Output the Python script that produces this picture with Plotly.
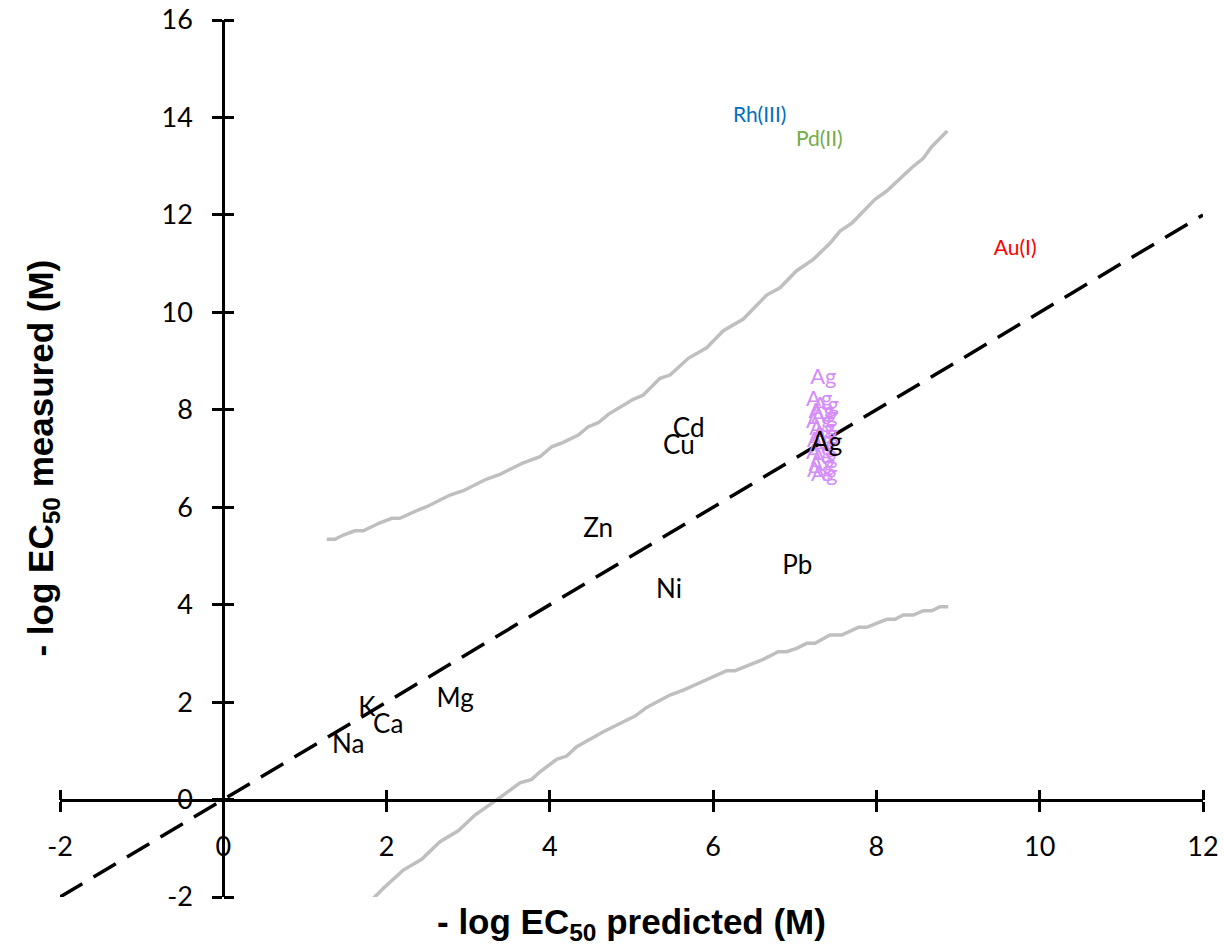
import plotly.graph_objects as go

# ---- data ----
metal_labels = ["Na", "K", "Ca", "Mg", "Zn", "Ni", "Cu", "Cd", "Pb", "Ag"]
metal_pred = [1.53, 1.76, 2.02, 2.84, 4.59, 5.46, 5.58, 5.70, 7.03, 7.39]
metal_meas = [1.09, 1.85, 1.50, 2.03, 5.52, 4.27, 7.22, 7.57, 4.76, 7.28]

ag_pred = [7.35, 7.30, 7.38, 7.33, 7.36, 7.30, 7.34, 7.37, 7.31, 7.35, 7.30, 7.36, 7.33, 7.31, 7.36]
ag_meas = [8.64, 8.19, 8.07, 7.95, 7.85, 7.73, 7.60, 7.47, 7.35, 7.23, 7.10, 6.99, 6.86, 6.73, 6.65]

rh_pred, rh_meas = [6.57], [14.01]
pd_pred, pd_meas = [7.30], [13.52]
au_pred, au_meas = [9.70], [11.29]

upper_x = [1.267, 1.368, 1.470, 1.613, 1.715, 1.919, 2.063, 2.164, 2.369, 2.491, 2.777, 2.940,
           3.226, 3.389, 3.675, 3.879, 4.022, 4.165, 4.348, 4.471, 4.593, 4.716, 5.022, 5.145,
           5.349, 5.472, 5.696, 5.921, 6.125, 6.370, 6.656, 6.819, 7.023, 7.227, 7.431, 7.554,
           7.697, 7.983, 8.126, 8.432, 8.574, 8.677, 8.868]
upper_y = [5.341, 5.341, 5.429, 5.517, 5.517, 5.681, 5.772, 5.772, 5.928, 6.010, 6.250, 6.338,
           6.578, 6.675, 6.913, 7.036, 7.241, 7.332, 7.482, 7.652, 7.734, 7.906, 8.214, 8.303,
           8.645, 8.713, 9.056, 9.273, 9.622, 9.863, 10.355, 10.505, 10.854, 11.088, 11.416, 11.669,
           11.827, 12.319, 12.490, 12.968, 13.161, 13.399, 13.721]

lower_x = [1.818, 1.960, 2.205, 2.430, 2.654, 2.878, 3.083, 3.307, 3.430, 3.634, 3.778, 3.879,
           4.084, 4.206, 4.329, 4.655, 4.859, 5.043, 5.186, 5.471, 5.635, 6.044, 6.166, 6.268,
           6.492, 6.614, 6.798, 6.901, 7.023, 7.146, 7.248, 7.431, 7.575, 7.778, 7.881, 8.126,
           8.228, 8.329, 8.452, 8.574, 8.677, 8.779, 8.880]
lower_y = [-2.063, -1.823, -1.447, -1.227, -0.866, -0.640, -0.318, -0.066, 0.092, 0.345, 0.415, 0.571,
           0.825, 0.893, 1.084, 1.392, 1.564, 1.714, 1.892, 2.145, 2.248, 2.555, 2.644, 2.644,
           2.808, 2.878, 3.034, 3.034, 3.103, 3.206, 3.206, 3.376, 3.376, 3.534, 3.534, 3.699,
           3.699, 3.787, 3.787, 3.875, 3.875, 3.957, 3.957]

identity_x = [-2, 12]
identity_y = [-2, 12]

x_ticks = [-2, 0, 2, 4, 6, 8, 10, 12]
x_ticktext = ["-2", "0", "2", "4", "6", "8", "10", "12"]
y_ticks = [-2, 0, 2, 4, 6, 8, 10, 12, 14, 16]
y_ticktext = ["-2", "0", "2", "4", "6", "8", "10", "12", "14", "16"]
x_range = [-2, 12]
y_range = [-2, 16]

# ---- figure ----
LABEL_FONT = "Lato"
fig = go.Figure()

fig.add_trace(go.Scatter(x=upper_x, y=upper_y, mode="lines",
                         line=dict(color="#BFBFBF", width=3.5), hoverinfo="skip"))
fig.add_trace(go.Scatter(x=lower_x, y=lower_y, mode="lines",
                         line=dict(color="#BFBFBF", width=3.5), hoverinfo="skip"))
fig.add_trace(go.Scatter(x=identity_x, y=identity_y, mode="lines",
                         line=dict(color="black", width=3.5, dash="26px,13px"), hoverinfo="skip"))

fig.add_trace(go.Scatter(x=ag_pred, y=ag_meas, mode="text", text=["Ag"] * len(ag_pred),
                         textposition="middle center",
                         textfont=dict(family=LABEL_FONT, size=22, color="#D48CF8")))
fig.add_trace(go.Scatter(x=metal_pred, y=metal_meas, mode="text", text=metal_labels,
                         textposition="middle center",
                         textfont=dict(family=LABEL_FONT, size=26, color="black")))
fig.add_trace(go.Scatter(x=rh_pred, y=rh_meas, mode="text", text=["Rh(III)"],
                         textposition="middle center",
                         textfont=dict(family=LABEL_FONT, size=21, color="#0070C0")))
fig.add_trace(go.Scatter(x=pd_pred, y=pd_meas, mode="text", text=["Pd(II)"],
                         textposition="middle center",
                         textfont=dict(family=LABEL_FONT, size=21, color="#70AD47")))
fig.add_trace(go.Scatter(x=au_pred, y=au_meas, mode="text", text=["Au(I)"],
                         textposition="middle center",
                         textfont=dict(family=LABEL_FONT, size=21, color="#FF0000")))
# carrier trace for the overlay axes (cross ticks)
fig.add_trace(go.Scatter(x=[None], y=[None], xaxis="x2", yaxis="y2", mode="markers",
                         hoverinfo="skip"))

xpos = (0 - y_range[0]) / (y_range[1] - y_range[0])
ypos = (0 - x_range[0]) / (x_range[1] - x_range[0])

axis_common = dict(showgrid=False, zeroline=False, showline=True, linecolor="black",
                   linewidth=3, ticks="outside", ticklen=10, tickwidth=3, tickcolor="black",
                   automargin=False,
                   tickfont=dict(family=LABEL_FONT, size=27, color="black"))
overlay_common = dict(showline=False, showgrid=False, zeroline=False, automargin=False,
                      ticks="outside", ticklen=10, tickwidth=3, tickcolor="black",
                      showticklabels=False)

fig.update_layout(
    width=1225, height=947,
    margin=dict(l=60, r=22, t=20, b=50, autoexpand=False),
    plot_bgcolor="white", paper_bgcolor="white",
    showlegend=False,
    xaxis=dict(range=x_range, tickvals=x_ticks, ticktext=x_ticktext, anchor="free",
               position=xpos, ticklabelstandoff=12, **axis_common),
    yaxis=dict(range=y_range, tickvals=y_ticks, ticktext=y_ticktext, anchor="free",
               position=ypos, ticklabelstandoff=14, **axis_common),
    xaxis2=dict(range=x_range, tickvals=x_ticks, overlaying="x", side="top", anchor="free",
                position=xpos, **overlay_common),
    yaxis2=dict(range=y_range, tickvals=y_ticks, overlaying="y", side="right", anchor="free",
                position=ypos, **overlay_common),
    annotations=[
        dict(text="- log EC<sub>50</sub> predicted (M)", xref="paper", yref="paper",
             x=0.5, y=-0.031, xanchor="center", yanchor="middle", showarrow=False,
             font=dict(family="Liberation Sans", size=35, color="black", weight="bold")),
        dict(text="- log EC<sub>50</sub> measured (M)", xref="paper", yref="paper",
             x=-0.0157, y=0.5, xanchor="center", yanchor="middle", showarrow=False,
             textangle=-90,
             font=dict(family="Liberation Sans", size=35, color="black", weight="bold")),
    ],
)

fig.write_html("out.html")
